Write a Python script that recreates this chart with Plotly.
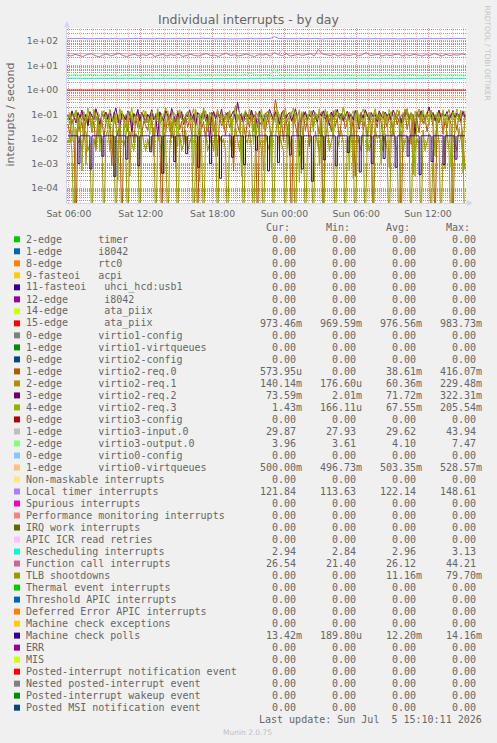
import plotly.graph_objects as go
from datetime import datetime, timedelta

# ---------------- data ----------------
# time grids
t10 = [datetime(2026, 7, 4, 5, 55) + timedelta(minutes=10 * i) for i in range(200)]
t20 = [datetime(2026, 7, 4, 5, 50) + timedelta(minutes=20 * i) for i in range(101)]
t200 = [datetime(2026, 7, 4, 5, 50) + timedelta(minutes=200 * i) for i in range(11)]

# 15-edge ata_piix (per second)
ata_piix_15 = [0.976, 0.975, 0.978, 0.977, 0.974, 0.976, 0.979, 0.975, 0.977, 0.976, 0.973]
# 1-edge virtio0-virtqueues
virtio0_vq = [0.503, 0.502, 0.505, 0.503, 0.501, 0.504, 0.503, 0.502, 0.504, 0.503, 0.500]

# Local timer interrupts
local_timer = [
    121, 123, 120, 122, 125, 121, 119, 122, 124, 120,
    122, 121, 126, 120, 122, 123, 119, 121, 124, 122,
    120, 122, 121, 125, 120, 122, 123, 121, 119, 122,
    124, 121, 120, 122, 126, 121, 122, 120, 123, 121,
    122, 119, 121, 124, 122, 120, 123, 121, 122, 125,
    121, 124, 148, 126, 122, 120, 123, 121, 122, 124,
    120, 122, 125, 121, 119, 122, 123, 121, 124, 120,
    122, 121, 123, 126, 120, 122, 121, 124, 122, 120,
    123, 121, 122, 119, 124, 121, 122, 125, 120, 122,
    121, 123, 120, 122, 124, 121, 122, 126, 121, 123, 122]

# Function call interrupts
function_call = [
    26, 24, 28, 25, 23, 27, 30, 25, 22, 26,
    29, 24, 27, 31, 25, 23, 26, 28, 24, 27,
    25, 30, 23, 26, 28, 24, 27, 25, 29, 23,
    26, 28, 25, 24, 27, 30, 25, 26, 23, 28,
    31, 25, 27, 24, 26, 29, 25, 23, 27, 26,
    28, 24, 33, 27, 25, 29, 24, 26, 28, 25,
    27, 30, 24, 44, 29, 26, 25, 28, 24, 27,
    26, 25, 29, 24, 27, 33, 25, 26, 28, 24,
    27, 25, 26, 29, 24, 27, 25, 28, 26, 24,
    27, 25, 30, 26, 24, 28, 25, 27, 26, 29, 27]

# 1-edge virtio3-input.0
virtio3_input = [
    29.6, 29.8, 29.5, 29.7, 29.6, 29.9, 29.4, 29.6, 29.7, 29.5,
    29.8, 29.6, 29.5, 29.7, 30.1, 29.6, 29.4, 29.6, 29.8, 29.5,
    29.7, 29.6, 29.9, 29.5, 29.6, 29.7, 29.4, 29.6, 29.8, 29.6,
    29.5, 29.7, 29.6, 30.0, 29.5, 29.6, 29.7, 29.4, 29.6, 29.8,
    29.6, 29.5, 29.7, 29.6, 29.9, 29.5, 29.6, 29.7, 29.4, 29.6,
    29.8, 29.6, 29.5, 30.2, 43.9, 29.7, 29.6, 29.5, 29.8, 29.6,
    29.7, 29.5, 29.6, 29.9, 29.4, 29.6, 29.7, 29.5, 29.8, 29.6,
    29.5, 29.7, 29.6, 29.4, 29.8, 29.6, 29.5, 29.7, 29.6, 29.9,
    29.5, 29.6, 29.7, 29.4, 29.6, 29.8, 29.6, 29.5, 29.7, 29.6,
    29.8, 29.5, 29.6, 29.7, 29.4, 29.6, 29.8, 29.5, 29.7, 29.6, 29.9]

# 2-edge virtio3-output.0
virtio3_output = [
    4.1, 4.0, 4.2, 3.9, 4.1, 4.0, 4.3, 4.0, 3.9, 4.1,
    4.2, 4.0, 4.1, 3.8, 4.0, 4.2, 4.1, 3.9, 4.0, 4.1,
    4.3, 4.0, 3.9, 4.1, 4.2, 4.0, 4.1, 3.9, 4.0, 4.2,
    4.1, 4.0, 3.8, 4.1, 4.0, 4.2, 4.1, 3.9, 4.0, 4.1,
    4.2, 4.0, 4.1, 3.9, 4.0, 4.3, 5.0, 4.1, 4.0, 4.2,
    4.1, 4.3, 7.5, 4.4, 4.1, 4.0, 4.2, 3.9, 4.1, 4.0,
    4.2, 4.1, 3.9, 4.0, 4.1, 4.2, 4.0, 3.9, 4.1, 4.0,
    4.2, 4.1, 4.0, 3.9, 4.1, 4.0, 4.2, 4.1, 3.9, 4.0,
    4.1, 4.2, 4.0, 3.9, 4.1, 4.0, 4.3, 4.1, 4.0, 3.9,
    4.1, 4.0, 4.2, 4.1, 3.9, 4.0, 4.1, 4.2, 4.0, 4.1, 4.0]

# Rescheduling interrupts
rescheduling = [
    2.96, 2.97, 2.95, 2.96, 2.98, 2.96, 2.95, 2.97, 2.96, 2.96,
    2.95, 2.97, 2.96, 2.98, 2.96, 2.95, 2.96, 2.97, 2.96, 2.95,
    2.96, 2.97, 2.96, 2.95, 2.98, 2.96, 2.96, 2.95, 2.97, 2.96,
    2.96, 2.95, 2.97, 2.96, 2.96, 2.98, 2.95, 2.96, 2.97, 2.96,
    2.95, 2.96, 2.97, 2.96, 2.84, 2.96, 2.97, 2.95, 2.96, 2.96,
    2.97, 2.96, 3.13, 2.98, 2.96, 2.95, 2.96, 2.97, 2.96, 2.95,
    2.96, 2.97, 2.96, 2.95, 2.96, 2.98, 2.96, 2.95, 2.97, 2.96,
    2.96, 2.95, 2.97, 2.96, 2.95, 2.96, 2.97, 2.96, 2.85, 2.96,
    2.95, 2.97, 2.96, 2.96, 2.95, 2.98, 2.96, 2.97, 2.95, 2.96,
    2.96, 2.97, 2.95, 2.96, 2.98, 2.96, 2.95, 2.96, 2.97, 2.96, 2.94]

# 1-edge virtio2-req.0 (milli per second)
req0_m = [
    40, 15, 65, 28, 0, 80, 22, 50, 9, 70, 35, 110, 18, 55, 4, 90, 30, 60, 12, 45,
    75, 25, 0.8, 95, 38, 14, 60, 0, 42, 85, 20, 130, 50, 7, 68, 30, 100, 16, 55, 35,
    22, 80, 45, 3, 65, 120, 28, 0, 58, 18, 90, 40, 11, 70, 33, 140, 24, 52, 6, 85,
    30, 62, 15, 105, 44, 0, 75, 26, 50, 9, 88, 36, 125, 20, 60, 2, 78, 34, 48, 14,
    95, 28, 56, 0.5, 72, 38, 18, 115, 46, 10, 66, 30, 150, 24, 80, 0, 52, 35, 60, 20,
    85, 34, 12, 70, 416, 120, 40, 65, 8, 90, 26, 55, 0, 100, 36, 14, 75, 44, 130, 22,
    58, 5, 82, 30, 110, 48, 16, 68, 0, 95, 38, 60, 20, 140, 32, 72, 10, 50, 88, 26,
    45, 100, 18, 64, 0.3, 78, 35, 125, 22, 55, 12, 92, 40, 0, 70, 28, 115, 46, 8, 62,
    30, 85, 52, 14, 105, 38, 70, 0, 48, 160, 24, 66, 6, 90, 34, 58, 18, 120, 42, 75,
    20, 60, 95, 32, 0, 72, 44, 110, 16, 54, 28, 88, 38, 0, 65, 22, 100, 48, 12, 0.57]

# 2-edge virtio2-req.1
req1_m = [
    80, 40, 110, 65, 150, 20, 95, 55, 130, 0.9, 75, 100, 35, 160, 60, 120, 15, 90, 140, 50,
    105, 70, 4, 125, 85, 45, 170, 60, 95, 30, 140, 0.3, 80, 115, 55, 150, 25, 100, 70, 135,
    45, 90, 160, 2, 110, 75, 130, 50, 95, 185, 60, 20, 120, 80, 0.6, 145, 65, 105, 40, 90,
    125, 55, 100, 170, 35, 85, 0.18, 115, 70, 140, 50, 95, 10, 130, 80, 160, 60, 105, 25, 120,
    75, 145, 40, 95, 229, 60, 110, 1.2, 85, 130, 50, 165, 70, 20, 115, 90, 140, 55, 0.5, 100,
    135, 65, 105, 45, 150, 80, 3, 120, 95, 175, 55, 85, 130, 30, 110, 70, 155, 0.4, 90, 125,
    60, 100, 140, 40, 115, 85, 0.8, 130, 70, 160, 50, 95, 120, 15, 145, 75, 105, 60, 190, 85,
    40, 125, 90, 0.25, 110, 150, 65, 100, 35, 140, 80, 120, 5, 95, 170, 55, 115, 75, 135, 45,
    100, 0.7, 130, 85, 60, 155, 95, 30, 120, 75, 145, 50, 105, 0.35, 135, 90, 165, 65, 110, 40,
    125, 80, 150, 55, 100, 20, 140, 85, 115, 0.6, 95, 160, 70, 130, 45, 110, 85, 150, 0.9, 140]

# 3-edge virtio2-req.2
req2_m = [
    95, 60, 140, 80, 45, 120, 70, 150, 55, 100, 35, 130, 85, 60, 170, 90, 40, 110, 75, 125,
    65, 145, 50, 95, 180, 70, 30, 115, 85, 60, 135, 90, 20, 105, 75, 160, 55, 120, 80, 45,
    100, 70, 150, 60, 90, 12, 125, 80, 55, 140, 95, 65, 175, 85, 50, 110, 70, 130, 40, 95,
    80, 155, 60, 105, 35, 120, 90, 70, 145, 55, 100, 8, 85, 130, 65, 110, 75, 165, 50, 90,
    120, 70, 95, 140, 60, 322, 110, 80, 45, 125, 90, 65, 150, 75, 100, 30, 135, 85, 55, 115,
    70, 160, 90, 60, 125, 80, 40, 105, 145, 65, 95, 120, 55, 85, 170, 70, 2, 110, 80, 130,
    60, 100, 75, 150, 90, 50, 120, 85, 140, 65, 105, 35, 125, 80, 95, 160, 70, 110, 55, 90,
    135, 75, 100, 60, 145, 85, 25, 115, 70, 155, 95, 60, 120, 80, 105, 50, 140, 90, 70, 125,
    85, 110, 60, 150, 95, 70, 130, 45, 100, 80, 165, 60, 115, 90, 15, 125, 75, 140, 95, 65,
    105, 200, 80, 120, 55, 95, 150, 70, 110, 85, 130, 60, 100, 145, 75, 115, 90, 55, 135, 74]

# 4-edge virtio2-req.3
req3_m = [
    60, 120, 8, 90, 150, 30, 75, 0.5, 110, 45, 180, 70, 20, 130, 55, 95, 3, 140, 65, 100,
    25, 160, 80, 40, 115, 0.2, 85, 145, 50, 10, 125, 70, 190, 35, 90, 60, 1.5, 105, 150, 45,
    80, 15, 135, 95, 55, 170, 30, 110, 0.4, 75, 140, 60, 25, 120, 90, 5, 155, 70, 45, 100,
    130, 50, 85, 0.8, 160, 65, 110, 40, 195, 75, 20, 125, 90, 55, 2, 145, 80, 115, 35, 100,
    60, 140, 12, 95, 175, 50, 120, 0.3, 85, 150, 40, 105, 70, 6, 135, 90, 55, 165, 25, 110,
    75, 125, 0.6, 100, 45, 155, 80, 30, 140, 65, 4, 115, 90, 185, 50, 105, 0.17, 130, 70, 95,
    40, 150, 85, 20, 120, 60, 170, 1, 100, 75, 135, 45, 95, 10, 160, 80, 115, 50, 205, 70,
    110, 0.5, 90, 140, 55, 125, 30, 100, 165, 70, 3, 120, 85, 45, 150, 60, 105, 0.9, 130, 80,
    50, 160, 95, 25, 115, 70, 145, 8, 100, 60, 175, 40, 120, 85, 0.3, 135, 90, 55, 150, 65,
    105, 35, 140, 80, 2, 125, 95, 60, 155, 45, 110, 75, 0.7, 130, 90, 165, 50, 120, 0.4, 1.4]

# TLB shootdowns
tlb_m = [
    6.7, 13.3, 3.3, 0, 26.7, 6.7, 10, 3.3, 16.7, 20, 3.3, 6.7, 0, 10, 3.3, 33.3, 6.7, 10, 0, 13.3,
    23.3, 3.3, 6.7, 13.3, 0, 3.3, 40, 6.7, 10, 3.3, 0, 20, 6.7, 3.3, 16.7, 10, 0, 26.7, 6.7, 3.3,
    10, 3.3, 6.7, 30, 0, 13.3, 6.7, 3.3, 20, 10, 0, 3.3, 46.7, 10, 6.7, 0, 16.7, 3.3, 6.7, 23.3,
    3.3, 6.7, 13.3, 0, 3.3, 10, 36.7, 6.7, 0, 20, 3.3, 6.7, 10, 3.3, 26.7, 0, 13.3, 6.7, 10, 3.3,
    0, 16.7, 3.3, 6.7, 30, 10, 3.3, 13.3, 0, 10, 6.7, 23.3, 3.3, 0, 6.7, 53.3, 10, 3.3, 0, 16.7,
    6.7, 3.3, 20, 0, 10, 79.7, 13.3, 6.7, 3.3, 0, 26.7, 3.3, 10, 6.7, 0, 16.7, 3.3, 6.7, 33.3, 0,
    3.3, 13.3, 6.7, 0, 20, 6.7, 3.3, 10, 0, 6.7, 40, 3.3, 6.7, 16.7, 0, 3.3, 10, 23.3, 6.7, 0,
    10, 6.7, 30, 3.3, 0, 13.3, 6.7, 3.3, 20, 0, 10, 3.3, 6.7, 0, 26.7, 10, 13.3, 6.7, 3.3, 16.7,
    3.3, 0, 10, 43.3, 6.7, 3.3, 0, 20, 3.3, 10, 13.3, 6.7, 0, 30, 3.3, 10, 6.7, 0, 23.3, 3.3,
    6.7, 16.7, 0, 3.3, 10, 36.7, 6.7, 0, 3.3, 10, 20, 3.3, 0, 13.3, 6.7, 3.3, 26.7, 10, 3.3, 0]

# Machine check polls
mcp_m = [
    13.4, 13.4, 13.4, 13.4, 13.4, 1.0, 13.4, 13.4, 13.4, 13.4, 13.4, 0.6, 13.4, 13.4, 13.4, 13.4, 13.4, 2.0, 13.4, 13.4,
    13.4, 13.4, 13.4, 0.3, 13.4, 13.4, 13.4, 13.4, 13.4, 1.5, 13.4, 13.4, 13.4, 13.4, 13.4, 0.8, 13.4, 13.4, 13.4, 13.4,
    13.4, 3.0, 13.4, 13.4, 13.4, 13.4, 13.4, 0.4, 13.4, 13.4, 13.4, 13.4, 13.4, 1.2, 13.4, 13.4, 13.4, 13.4, 13.4, 2.5,
    13.4, 13.4, 13.4, 13.4, 13.4, 0.7, 13.4, 13.4, 13.4, 13.4, 13.4, 1.0, 13.4, 13.4, 13.4, 13.4, 0.25, 13.4, 13.4, 13.4,
    13.4, 13.4, 1.8, 13.4, 13.4, 13.4, 13.4, 13.4, 0.9, 13.4, 13.4, 13.4, 13.4, 13.4, 3.5, 13.4, 13.4, 13.4, 13.4, 13.4,
    0.5, 13.4, 13.4, 13.4, 13.4, 1.1, 13.4, 13.4, 13.4, 13.4, 13.4, 2.2, 13.4, 13.4, 13.4, 13.4, 13.4, 0.6, 13.4, 13.4,
    13.4, 13.4, 0.19, 13.4, 13.4, 13.4, 13.4, 13.4, 1.4, 13.4, 13.4, 13.4, 13.4, 13.4, 0.8, 13.4, 13.4, 13.4, 13.4, 13.4,
    2.8, 13.4, 13.4, 13.4, 13.4, 13.4, 0.45, 13.4, 13.4, 13.4, 13.4, 13.4, 1.0, 13.4, 13.4, 13.4, 13.4, 13.4, 1.6, 13.4,
    13.4, 13.4, 13.4, 13.4, 0.7, 13.4, 13.4, 13.4, 13.4, 13.4, 2.0, 13.4, 13.4, 13.4, 13.4, 13.4, 0.35, 13.4, 13.4, 13.4,
    13.4, 13.4, 1.2, 13.4, 13.4, 13.4, 13.4, 13.4, 0.9, 13.4, 13.4, 13.4, 13.4, 13.4, 1.5, 13.4, 13.4, 13.4, 13.4, 13.42]

# legend
legend_labels = [
    "2-edge      timer", "1-edge      i8042", "8-edge      rtc0", "9-fasteoi   acpi",
    "11-fasteoi   uhci_hcd:usb1", "12-edge      i8042", "14-edge      ata_piix",
    "15-edge      ata_piix", "0-edge      virtio1-config", "1-edge      virtio1-virtqueues",
    "0-edge      virtio2-config", "1-edge      virtio2-req.0", "2-edge      virtio2-req.1",
    "3-edge      virtio2-req.2", "4-edge      virtio2-req.3", "0-edge      virtio3-config",
    "1-edge      virtio3-input.0", "2-edge      virtio3-output.0", "0-edge      virtio0-config",
    "1-edge      virtio0-virtqueues", "Non-maskable interrupts", "Local timer interrupts",
    "Spurious interrupts", "Performance monitoring interrupts", "IRQ work interrupts",
    "APIC ICR read retries", "Rescheduling interrupts", "Function call interrupts",
    "TLB shootdowns", "Thermal event interrupts", "Threshold APIC interrupts",
    "Deferred Error APIC interrupts", "Machine check exceptions", "Machine check polls",
    "ERR", "MIS", "Posted-interrupt notification event", "Nested posted-interrupt event",
    "Posted-interrupt wakeup event", "Posted MSI notification event"]

legend_colors = [
    "#00CC00", "#0066B3", "#FF8000", "#FFCC00", "#330099", "#990099", "#CCFF00", "#FF0000",
    "#808080", "#008F00", "#00487D", "#B35A00", "#B38F00", "#6B006B", "#8FB300", "#B30000",
    "#BEBEBE", "#80FF80", "#80C9FF", "#FFC080", "#FFE680", "#AA80FF", "#EE00CC", "#FF8080",
    "#666600", "#FFBFFF", "#00FFCC", "#CC6699", "#999900", "#00CC00", "#0066B3", "#FF8000",
    "#FFCC00", "#330099", "#990099", "#CCFF00", "#FF0000", "#808080", "#008F00", "#00487D"]

Z = "0.00"
cur_vals = [Z]*7 + ["973.46m", Z, Z, Z, "573.95u", "140.14m", "73.59m", "1.43m", Z, "29.87", "3.96", Z,
            "500.00m", Z, "121.84", Z, Z, Z, Z, "2.94", "26.54", Z, Z, Z, Z, Z, "13.42m"] + [Z]*6
min_vals = [Z]*7 + ["969.59m", Z, Z, Z, Z, "176.60u", "2.01m", "166.11u", Z, "27.93", "3.61", Z,
            "496.73m", Z, "113.63", Z, Z, Z, Z, "2.84", "21.40", Z, Z, Z, Z, Z, "189.80u"] + [Z]*6
avg_vals = [Z]*7 + ["976.56m", Z, Z, Z, "38.61m", "60.36m", "71.72m", "67.55m", Z, "29.62", "4.10", Z,
            "503.35m", Z, "122.14", Z, Z, Z, Z, "2.96", "26.12", "11.16m", Z, Z, Z, Z, "12.20m"] + [Z]*6
max_vals = [Z]*7 + ["983.73m", Z, Z, Z, "416.07m", "229.48m", "322.31m", "205.54m", Z, "43.94", "7.47", Z,
            "528.57m", Z, "148.61", Z, Z, Z, Z, "3.13", "44.21", "79.70m", Z, Z, Z, Z, "14.16m"] + [Z]*6
stat_headers = ["Cur:", "Min:", "Avg:", "Max:"]

y_tickvals = [1e-4, 1e-3, 1e-2, 1e-1, 1e0, 1e1, 1e2]
y_ticktext = ["1e-04", "1e-03", "1e-02", "1e-01", "1e+00", "1e+01", "1e+02"]
x_tickvals = [datetime(2026, 7, 4, 6), datetime(2026, 7, 4, 12), datetime(2026, 7, 4, 18),
              datetime(2026, 7, 5, 0), datetime(2026, 7, 5, 6), datetime(2026, 7, 5, 12)]
x_ticktext = ["Sat 06:00", "Sat 12:00", "Sat 18:00", "Sun 00:00", "Sun 06:00", "Sun 12:00"]

# ---------------- layout helpers ----------------
W, H = 497, 743
PL, PR, PT, PB = 67, 466, 28, 203
FONT = "#666666"
NB = "\u00a0"


def px(x):
    return (x - PL) / (PR - PL)


def py(y):
    return 1 - (y - PT) / (PB - PT)


FLOOR = 1e-6  # zero values fall below the log axis, like rrdtool


def disp(vals, scale=1.0):
    return [v * scale if v > 0 else FLOOR for v in vals]


fig = go.Figure()


def add(x, y, color, shape="linear"):
    fig.add_trace(go.Scatter(x=x, y=y, mode="lines", line=dict(color=color, width=1, shape=shape),
                             hoverinfo="skip", showlegend=False))


add(t200, ata_piix_15, "#FF0000")
add(t10, disp(req0_m, 1e-3), "#B35A00")
add(t10, disp(req1_m, 1e-3), "#B38F00")
add(t10, disp(req2_m, 1e-3), "#6B006B")
add(t10, disp(req3_m, 1e-3), "#8FB300")
add(t20, virtio3_input, "#BEBEBE")
add(t20, virtio3_output, "#80FF80")
add(t200, virtio0_vq, "#FFC080")
add(t20, local_timer, "#AA80FF")
add(t20, rescheduling, "#00FFCC")
add(t20, function_call, "#CC6699")
add(t10, disp(tlb_m, 1e-3), "#999900")
add(t10, disp(mcp_m, 1e-3), "#330099", shape="hv")

minor_y = [m * 10 ** e for e in range(-5, 3) for m in range(2, 10)]
hours = [datetime(2026, 7, 4, 6) + timedelta(hours=h) for h in range(34)]

MGRID = "rgba(222,79,79,0.6)"
XGRID = "rgba(222,79,79,0.34)"
GRID = "rgba(143,143,143,0.9)"
DOT = "1px,1px"

annotations = []
shapes = []


def text(x, y, s, size, color=FONT, family="DejaVu Sans Mono", xanchor="left", angle=0):
    annotations.append(dict(x=px(x), y=py(y), xref="paper", yref="paper", text=s, showarrow=False,
                            xanchor=xanchor, yanchor="middle", textangle=angle,
                            borderpad=0, borderwidth=0,
                            font=dict(family=family, size=size, color=color)))


# title, axis title, watermark
text(248.5, 19, "Individual interrupts - by day", 12.5, family="DejaVu Sans", xanchor="center")
text(10, 114.5, "interrupts / second", 11, family="DejaVu Sans", xanchor="center", angle=-90)
text(487, 52.5, "RRDTOOL / TOBI OETIKER", 7.4, color="#C4C4C4", family="DejaVu Sans",
     xanchor="center", angle=90)

# legend header
for k, h in enumerate(stat_headers):
    text(302 + 60 * k, 227.7, h + NB + NB, 10, xanchor="right")

for i, lab in enumerate(legend_labels):
    yc = 239.3 + 12.01 * i
    shapes.append(dict(type="rect", xref="paper", yref="paper", x0=px(14), x1=px(20),
                       y0=py(yc + 3), y1=py(yc - 3), fillcolor=legend_colors[i], line=dict(width=0)))
    text(26, yc, lab.replace(" ", NB), 10)
    for k, col in enumerate([cur_vals, min_vals, avg_vals, max_vals]):
        v = col[i]
        s = v if v[-1].isalpha() else v + NB
        text(302 + 60 * k, yc, s, 10, xanchor="right")

text(482, 719.5, "Last update: Sun Jul  5 15:10:11 2026".replace(" ", NB), 10, xanchor="right")
text(247.5, 732, "Munin 2.0.75", 7.5, color="#C0C0C0", family="DejaVu Sans", xanchor="center")

# axis arrows (rrdtool style)
AX = "#CFD6F8"
shapes.append(dict(type="line", xref="paper", yref="paper", x0=1, x1=px(469), y0=0, y1=0,
                   line=dict(color=AX, width=1)))
shapes.append(dict(type="path", xref="paper", yref="paper",
                   path=f"M {px(467)} {py(200)} L {px(473)} {py(203)} L {px(467)} {py(206)} Z",
                   fillcolor=AX, line=dict(width=0)))
shapes.append(dict(type="line", xref="paper", yref="paper", x0=0, x1=0, y0=1, y1=py(25),
                   line=dict(color=AX, width=1)))
shapes.append(dict(type="path", xref="paper", yref="paper",
                   path=f"M {px(64)} {py(27)} L {px(67)} {py(21)} L {px(70)} {py(27)} Z",
                   fillcolor=AX, line=dict(width=0)))

fig.update_layout(
    width=W, height=H,
    margin=dict(l=PL, r=W - PR, t=PT, b=H - PB, pad=0),
    paper_bgcolor="#F0F0F0", plot_bgcolor="#FFFFFF",
    showlegend=False,
    annotations=annotations, shapes=shapes,
    xaxis=dict(type="date", range=[datetime(2026, 7, 4, 5, 50, 11), datetime(2026, 7, 5, 15, 10, 11)],
               tickmode="array", tickvals=x_tickvals, ticktext=x_ticktext,
               tickfont=dict(family="DejaVu Sans", size=9.3, color=FONT),
               showgrid=True, gridcolor=XGRID, griddash=DOT, gridwidth=1,
               minor=dict(tickmode="array", tickvals=hours, showgrid=True, gridcolor=XGRID,
                          griddash=DOT, gridwidth=1, ticks=""),
               showline=True, linecolor=AX, linewidth=1, ticks="", zeroline=False,
               fixedrange=True, ticklabelstandoff=2),
    yaxis=dict(type="log", range=[-4.61, 2.52], tickmode="array", tickvals=y_tickvals,
               ticktext=y_ticktext, tickfont=dict(family="DejaVu Sans", size=9.3, color=FONT),
               showgrid=True, gridcolor=MGRID, griddash=DOT, gridwidth=1,
               minor=dict(tickmode="array", tickvals=minor_y, showgrid=True, gridcolor=GRID,
                          griddash=DOT, gridwidth=1, ticks=""),
               showline=True, linecolor=AX, linewidth=1, ticks="", zeroline=False,
               fixedrange=True, ticklabelstandoff=6),
)

fig.write_html("out.html")
